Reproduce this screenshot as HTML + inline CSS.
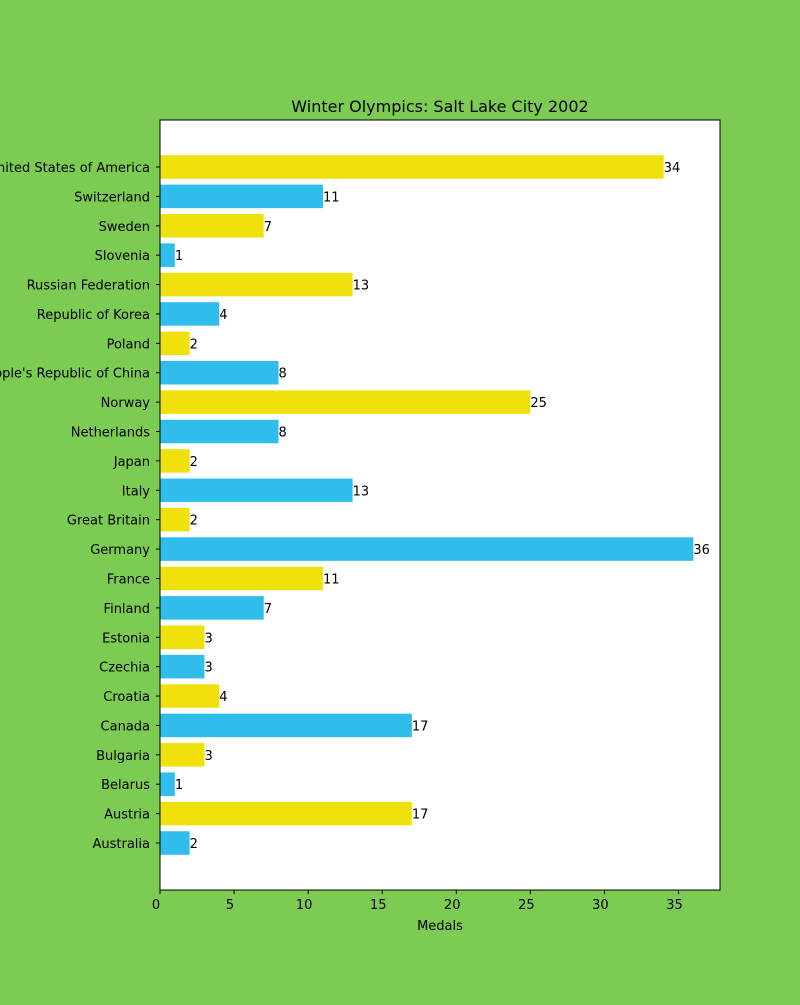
<!DOCTYPE html>
<html><head><meta charset="utf-8"><style>
body{margin:0;background:#7ccb52;}
svg text{font-family:"DejaVu Sans","Liberation Sans",sans-serif;}
</style></head><body>
<svg id="chart" width="800" height="1000" xmlns="http://www.w3.org/2000/svg">
<rect x="0" y="0" width="800" height="1000" fill="#7ccb52"/>
<rect x="160" y="120" width="560" height="770" fill="#ffffff"/>
<text x="440" y="112" font-size="16" text-anchor="middle">Winter Olympics: Salt Lake City 2002</text>
<text x="440" y="930" font-size="13" text-anchor="middle">Medals</text>
<g id="marks"></g>
<rect x="160" y="120" width="560" height="770" fill="none" stroke="#000" stroke-width="1"/>
</svg>
<script>
const countries=["Australia","Austria","Belarus","Bulgaria","Canada","Croatia","Czechia","Estonia","Finland","France","Germany","Great Britain","Italy","Japan","Netherlands","Norway","People's Republic of China","Poland","Republic of Korea","Russian Federation","Slovenia","Sweden","Switzerland","United States of America"];
const medals=[2,17,1,3,17,4,3,3,7,11,36,2,13,2,8,25,8,2,4,13,1,7,11,34];
const xTicks=[0,5,10,15,20,25,30,35];
const colors=["#31bdec","#f0e10c"];

const L=160,R=720,T=120,B=890;
const xMax=37.8;
const x=v=>L+v*(R-L)/xMax;
const step=(843-167)/23;
const y=i=>843-i*step;
const g=document.getElementById('marks');
const NS="http://www.w3.org/2000/svg";
function mk(t,a){const e=document.createElementNS(NS,t);for(const k in a)e.setAttribute(k,a[k]);return e;}
const bh=step*0.8;
countries.forEach((c,i)=>{
  const r=mk('rect',{x:L,y:y(i)-bh/2,width:x(medals[i])-L,height:bh,fill:colors[i%2]});
  
  
  g.appendChild(r);
  const v=mk('text',{x:x(medals[i]),y:y(i)+5,'font-size':13});
  v.textContent=medals[i];
  
  
  g.appendChild(v);
  const tk=mk('line',{x1:L-4,x2:L,y1:y(i),y2:y(i),stroke:'#000'});
  
  
  g.appendChild(tk);
  const lb=mk('text',{x:L-10,y:y(i)+5,'font-size':13,'text-anchor':'end'});
  lb.textContent=c;
  
  
  g.appendChild(lb);
});
xTicks.forEach(t=>{
  const tk=mk('line',{x1:x(t),x2:x(t),y1:B,y2:B+4,stroke:'#000'});
  
  
  g.appendChild(tk);
  const lb=mk('text',{x:x(t)-4,y:B+19,'font-size':13,'text-anchor':'middle'});
  lb.textContent=t;
  
  
  g.appendChild(lb);
});
</script>
</body></html>
